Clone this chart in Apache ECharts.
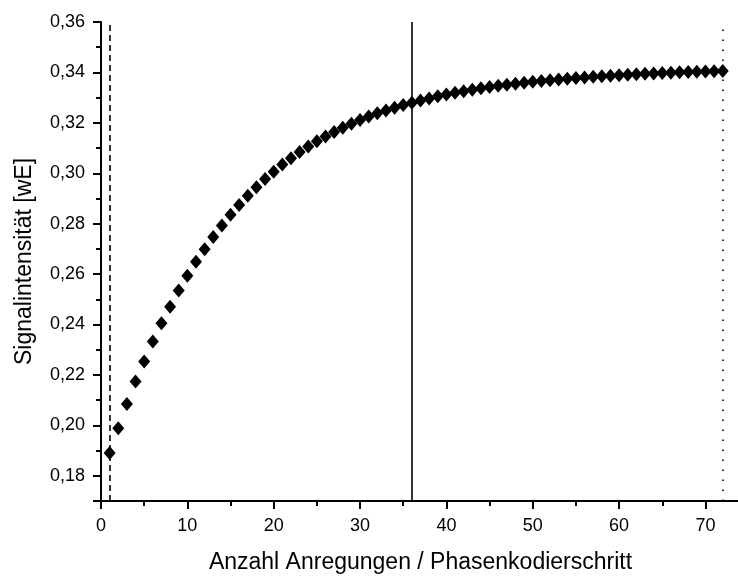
<!DOCTYPE html>
<html>
<head>
<meta charset="utf-8">
<script src="https://cdn.jsdelivr.net/npm/echarts@6/dist/echarts.min.js"></script>
<style>html,body{margin:0;padding:0;background:#fff}#c{width:738px;height:577px}</style>
</head>
<body>
<div id="c"></div>
<script>
const xValues = [1,2,3,4,5,6,7,8,9,10,11,12,13,14,15,16,17,18,19,20,21,22,23,24,25,26,27,28,29,30,31,32,33,34,35,36,37,38,39,40,41,42,43,44,45,46,47,48,49,50,51,52,53,54,55,56,57,58,59,60,61,62,63,64,65,66,67,68,69,70,71,72];
const yValues = [0.1890,0.1989,0.2085,0.2174,0.2253,0.2333,0.2405,0.2471,0.2535,0.2593,0.2649,0.2699,0.2747,0.2793,0.2835,0.2874,0.2911,0.2945,0.2977,0.3006,0.3035,0.3060,0.3084,0.3106,0.3127,0.3146,0.3164,0.3181,0.3196,0.3211,0.3225,0.3238,0.3249,0.3260,0.3271,0.3280,0.3289,0.3297,0.3305,0.3312,0.3319,0.3325,0.3331,0.3337,0.3342,0.3347,0.3351,0.3355,0.3359,0.3363,0.3366,0.3369,0.3372,0.3375,0.3378,0.3380,0.3383,0.3385,0.3387,0.3389,0.3391,0.3393,0.3395,0.3396,0.3398,0.3399,0.3401,0.3402,0.3403,0.3404,0.3405,0.3406];
const markerLines = { dashed: 1, solid: 36, dotted: 72 };
const xTitle = 'Anzahl Anregungen / Phasenkodierschritt';
const yTitle = 'Signalintensität [wE]';

const FONT = 'Liberation Sans, Arial, sans-serif';
const chart = echarts.init(document.getElementById('c'));
const data = xValues.map((x, i) => [x, yValues[i]]);

chart.setOption({
  animation: false,
  backgroundColor: '#fff',
  grid: { left: 101, top: 22, right: -2, bottom: 76, containLabel: false, outerBoundsMode: 'none' },
  xAxis: [
    {
      type: 'value', min: 0, max: 74, interval: 10, position: 'bottom',
      name: xTitle, nameLocation: 'middle', nameGap: 50,
      nameTextStyle: { fontFamily: FONT, fontSize: 23, color: '#000' },
      axisLine: { show: true, lineStyle: { color: '#000', width: 2 } },
      axisTick: { show: true, length: 8, lineStyle: { color: '#000', width: 2 } },
      axisLabel: { fontFamily: FONT, fontSize: 18, color: '#000', margin: 16,
        formatter: v => (Math.abs(v % 10) < 1e-9 ? String(v) : '') },
      splitLine: { show: false }
    },
    {
      type: 'value', min: 0, max: 74, interval: 5, position: 'bottom', gridIndex: 0,
      axisLine: { show: false },
      axisTick: { show: true, length: 5, lineStyle: { color: '#000', width: 2 } },
      axisLabel: { show: false }, splitLine: { show: false }
    }
  ],
  yAxis: [
    {
      type: 'value', min: 0.17, max: 0.36, splitNumber: 10, position: 'left',
      name: yTitle, nameLocation: 'middle', nameGap: 65,
      nameTextStyle: { fontFamily: FONT, fontSize: 23, color: '#000' },
      axisLine: { show: true, lineStyle: { color: '#000', width: 2 } },
      axisTick: { show: true, length: 8, lineStyle: { color: '#000', width: 2 } },
      axisLabel: { fontFamily: FONT, fontSize: 18, color: '#000', margin: 16,
        formatter: v => { const k = Math.round(v * 100); return (k % 2 === 0) ? v.toFixed(2).replace('.', ',') : ''; } },
      splitLine: { show: false }
    },
    {
      type: 'value', min: 0.17, max: 0.36, splitNumber: 19, position: 'left',
      axisLine: { show: false },
      axisTick: { show: true, length: 5, lineStyle: { color: '#000', width: 2 } },
      axisLabel: { show: false }, splitLine: { show: false }
    }
  ],
  series: [
    {
      type: 'scatter', xAxisIndex: 0, yAxisIndex: 0,
      data: data,
      symbol: 'diamond', symbolSize: [12, 14],
      itemStyle: { color: '#000', opacity: 1 },
      markLine: {
        silent: true, symbol: 'none', animation: false,
        label: { show: false },
        data: [
          { xAxis: markerLines.dashed, lineStyle: { color: '#000', width: 1.6, type: [6, 4] } },
          { xAxis: markerLines.solid, lineStyle: { color: '#000', width: 1.6, type: 'solid' } },
          { xAxis: markerLines.dotted, lineStyle: { color: '#000', width: 1.6, type: [1.5, 8.5] } }
        ]
      }
    }
  ]
});
</script>
</body>
</html>
